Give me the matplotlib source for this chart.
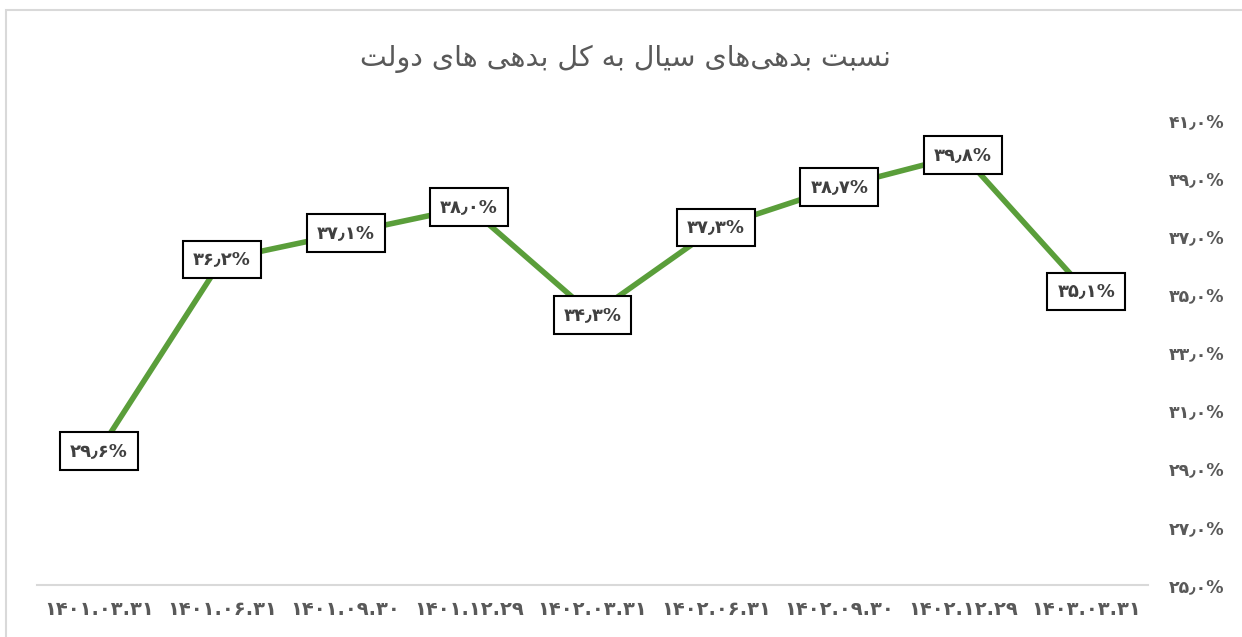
import matplotlib
matplotlib.use("Agg")
import matplotlib.pyplot as plt
from matplotlib.patches import Rectangle

# ---------------- data ----------------
categories = ["1401.03.31", "1401.06.31", "1401.09.30", "1401.12.29",
              "1402.03.31", "1402.06.31", "1402.09.30", "1402.12.29",
              "1403.03.31"]
values = [29.6, 36.2, 37.1, 38.0, 34.3, 37.3, 38.7, 39.8, 35.1]
y_ticks = [25, 27, 29, 31, 33, 35, 37, 39, 41]
title_text = "نسبت بدهی‌های سیال به کل بدهی های دولت"

# ---------------- helpers ----------------
FA_DIGITS = str.maketrans("0123456789", "۰۱۲۳۴۵۶۷۸۹")

def fa_num(s):
    return s.translate(FA_DIGITS)

def fa_pct(v):
    return fa_num(f"{v:.1f}").replace(".", "٫") + "%"

# presentation forms: iso, final, initial, medial (None = not joining left)
FORMS = {
    "ا": ("\uFE8D", "\uFE8E", None, None),
    "ب": ("\uFE8F", "\uFE90", "\uFE91", "\uFE92"),
    "ت": ("\uFE95", "\uFE96", "\uFE97", "\uFE98"),
    "د": ("\uFEA9", "\uFEAA", None, None),
    "س": ("\uFEB1", "\uFEB2", "\uFEB3", "\uFEB4"),
    "ل": ("\uFEDD", "\uFEDE", "\uFEDF", "\uFEE0"),
    "ن": ("\uFEE5", "\uFEE6", "\uFEE7", "\uFEE8"),
    "ه": ("\uFEE9", "\uFEEA", "\uFEEB", "\uFEEC"),
    "و": ("\uFEED", "\uFEEE", None, None),
    "ی": ("\uFEEF", "\uFEF0", "\uFEF3", "\uFEF4"),
    "ک": ("\uFED9", "\uFEDA", "\uFEDB", "\uFEDC"),
}

def shape_word(w):
    chars = [c for c in w]
    out = []
    for i, c in enumerate(chars):
        if c not in FORMS:
            out.append(c if c != "\u200c" else "")
            continue
        prev = chars[i - 1] if i > 0 else None
        nxt = chars[i + 1] if i + 1 < len(chars) else None
        join_prev = prev in FORMS and FORMS[prev][2] is not None
        join_next = nxt in FORMS and FORMS[c][2] is not None
        iso, fin, ini, med = FORMS[c]
        if join_prev and join_next:
            out.append(med)
        elif join_prev:
            out.append(fin)
        elif join_next:
            out.append(ini)
        else:
            out.append(iso)
    return "".join(out)[::-1]

def shape_rtl(text):
    words = text.split(" ")
    return " ".join(shape_word(w) for w in words[::-1])

# ---------------- figure ----------------
W, H = 1242, 637
fig = plt.figure(figsize=(W / 100, H / 100), dpi=100)
fig.patch.set_facecolor("white")

# outer chart border
fig.add_artist(Rectangle((6 / W, -0.01), 1.1, 1 - 10 / H + 0.01,
                         transform=fig.transFigure, fill=False,
                         edgecolor="#d9d9d9", linewidth=1.5))

left, right = 37 / W, 1148 / W
bottom, top = 1 - 585 / H, 1 - 120 / H
ax = fig.add_axes([left, bottom, right - left, top - bottom])

x = list(range(len(categories)))
ax.plot(x, values, color="#5a9e3a", linewidth=4.0, solid_capstyle="butt", zorder=2)

for xi, v in zip(x, values):
    ax.text(xi, v, fa_pct(v), ha="center", va="center",
            fontsize=13, fontweight="bold", color="#404040",
            family=["DejaVu Sans"],
            bbox=dict(boxstyle="square,pad=0.55", facecolor="white",
                      edgecolor="black", linewidth=1.5), zorder=3)

ax.set_xlim(-0.5, len(categories) - 0.5)
ax.set_ylim(25, 41)

ax.set_xticks(x)
ax.set_xticklabels([fa_num(c) for c in categories], fontsize=14,
                   fontweight="bold", color="#595959")
ax.tick_params(axis="x", length=0, pad=11)

ax.yaxis.tick_right()
ax.set_yticks(y_ticks)
ax.set_yticklabels([fa_pct(t) for t in y_ticks], fontsize=12.5,
                   fontweight="bold", color="#595959", ha="right")
ax.tick_params(axis="y", length=0, pad=55)

for s in ["top", "left", "right"]:
    ax.spines[s].set_visible(False)
ax.spines["bottom"].set_color("#d9d9d9")
ax.spines["bottom"].set_linewidth(1.5)

fig.text(625 / W, 1 - 59 / H, shape_rtl(title_text), ha="center", va="center",
         fontsize=20.5, color="#595959")

fig.savefig("out.png", dpi=100)
